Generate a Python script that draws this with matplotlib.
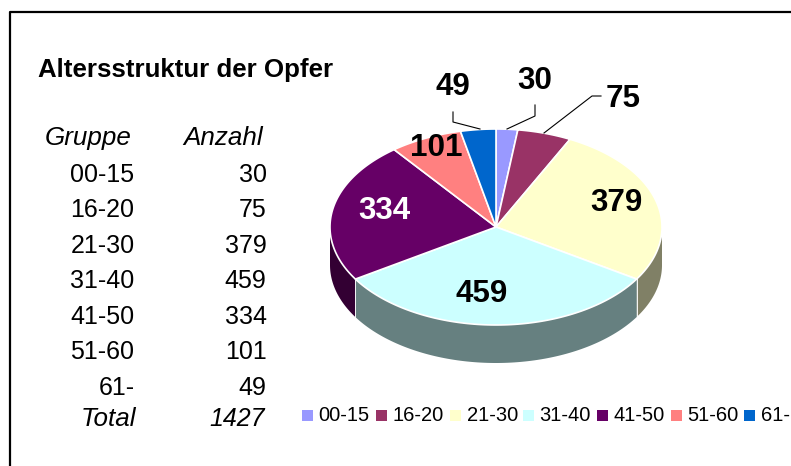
import matplotlib
matplotlib.use('Agg')
import matplotlib.pyplot as plt
from matplotlib.patches import Polygon, Rectangle
import numpy as np

plt.rcParams['font.family'] = ['Liberation Sans', 'DejaVu Sans']

groups = ['00-15', '16-20', '21-30', '31-40', '41-50', '51-60', '61-']
counts = [30, 75, 379, 459, 334, 101, 49]
total = 1427
colors = ['#9999FF', '#993366', '#FFFFCC', '#CCFFFF', '#660066', '#FF8080', '#0066CC']
side_colors = ['#4C4C80', '#4C1933', '#808066', '#668080', '#330033', '#804040', '#003366']
label_colors = ['k', 'k', 'k', 'k', 'w', 'k', 'k']

W, H = 791, 466
cx, cy, a, b, depth = 496, 227, 166, 98, 38


def ell(t, dy=0):
    # t in degrees, clockwise from the top of the pie
    r = np.radians(t)
    return cx + a*np.sin(r), cy - b*np.cos(r) + dy


fig = plt.figure(figsize=(W/100, H/100), dpi=100)
ax = fig.add_axes([0, 0, 1, 1])
ax.set_xlim(0, W)
ax.set_ylim(H, 0)
ax.axis('off')

# frame
ax.plot([9.5, 9.5, W], [H, 11.5, 11.5], color='k', lw=1.6, solid_capstyle='butt')

# table
ax.text(38, 69.5, 'Altersstruktur der Opfer', fontsize=18.6, fontweight='bold', va='center')
ax.text(132, 138, 'Gruppe', fontsize=18.7, style='italic', ha='right', va='center')
ax.text(263, 138, 'Anzahl', fontsize=18.7, style='italic', ha='right', va='center')
for i in range(len(groups)):
    y = 174.8 + i*35.5
    ax.text(134.5, y, groups[i], fontsize=18, ha='right', va='center')
    ax.text(266.5, y, str(counts[i]), fontsize=18, ha='right', va='center')
ax.text(136, 419, 'Total', fontsize=18.7, style='italic', ha='right', va='center')
ax.text(265, 419, str(total), fontsize=18, style='italic', ha='right', va='center')

# pie
edges = np.cumsum([0] + counts) / sum(counts) * 360

# side walls, only the front half of the rim shows
for i in range(len(counts)):
    t0 = max(edges[i], 90)
    t1 = min(edges[i+1], 270)
    if t1 <= t0:
        continue
    t = np.linspace(t0, t1, 100)
    x, y = ell(t)
    x2, y2 = ell(t[::-1], depth)
    ax.add_patch(Polygon(np.column_stack([np.r_[x, x2], np.r_[y, y2]]),
                         fc=side_colors[i], ec='none'))
    # thin light seams where the wall is cut by a slice edge
    for e in (t0, t1):
        if e > 90 and e < 270:
            ex, ey = ell(e)
            ex2, ey2 = ell(e, depth)
            ax.plot([ex, ex2], [ey, ey2], color='w', lw=0.5)

# top faces
for i in range(len(counts)):
    t = np.linspace(edges[i], edges[i+1], 100)
    x, y = ell(t)
    ax.add_patch(Polygon(np.column_stack([np.r_[cx, x], np.r_[cy, y]]),
                         fc=colors[i], ec='w', lw=1.2, joinstyle='round'))

# value labels
label_pos = [(535, 81), (623, 99), (616, 203), (482, 294), (384, 211), (436, 148), (453, 87)]
for i in range(len(counts)):
    ax.text(label_pos[i][0], label_pos[i][1], str(counts[i]), fontsize=22.6, fontweight='bold',
            color=label_colors[i], ha='center', va='center')

# leader lines
ax.plot([507, 535, 535], [129, 116, 105], color='k', lw=0.8)
ax.plot([544, 592, 601], [133, 96, 96], color='k', lw=0.8)
ax.plot([480, 453, 453], [129, 122, 112], color='k', lw=0.8)

# legend
sw_x = [302, 376, 450, 523, 597, 671, 744]
for i in range(len(groups)):
    ax.add_patch(Rectangle((sw_x[i], 409.5), 10.5, 11, fc=colors[i], ec='none'))
    ax.text(sw_x[i] + 16.5, 415.5, groups[i], fontsize=14.5, va='center')

fig.savefig('out.png', dpi=100)
